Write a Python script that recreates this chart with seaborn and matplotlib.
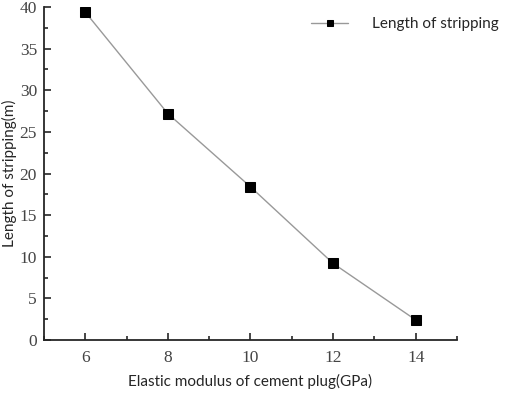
import matplotlib
matplotlib.use("Agg")
import matplotlib.pyplot as plt
import seaborn as sns
import pandas as pd
from matplotlib.ticker import MultipleLocator

# values
modulus = [6, 8, 10, 12, 14]
stripping = [39.4, 27.2, 18.4, 9.2, 2.4]

df = pd.DataFrame({"E": modulus, "L": stripping})

sns.set_style("ticks")
plt.rcParams['font.family'] = ['Lato', 'DejaVu Sans']

fig = plt.figure(figsize=(5.05, 3.93), dpi=100)
ax = fig.add_axes([0.087, 0.135, 0.818, 0.847])

sns.lineplot(data=df, x="E", y="L", ax=ax, color="#999999", linewidth=1,
             marker="s", markersize=7, markerfacecolor="black",
             markeredgecolor="black", label="Length of stripping")

ax.set_xlim(5, 15)
ax.set_ylim(0, 40)
ax.xaxis.set_major_locator(MultipleLocator(2))
ax.xaxis.set_minor_locator(MultipleLocator(1))
ax.yaxis.set_major_locator(MultipleLocator(5))
ax.yaxis.set_minor_locator(MultipleLocator(2.5))
ax.tick_params(which="major", direction="in", length=5, width=1.2, labelsize=12.5)
ax.tick_params(which="minor", direction="in", length=3, width=1.2)
ax.tick_params(axis="x", pad=7)
ax.tick_params(axis="y", pad=5)
for lab in ax.get_xticklabels() + ax.get_yticklabels():
    lab.set_family("Liberation Serif")
    lab.set_color("#444444")

for s in ["top", "right"]:
    ax.spines[s].set_visible(False)
for s in ["left", "bottom"]:
    ax.spines[s].set_linewidth(1.3)

ax.set_xlabel("Elastic modulus of cement plug(GPa)", fontsize=11, va="center")
ax.set_ylabel("Length of stripping(m)", fontsize=11, va="center")
ax.xaxis.set_label_coords(0.5, -0.126)
ax.yaxis.set_label_coords(-0.084, 0.5)

leg = ax.legend(loc="upper right", bbox_to_anchor=(1.135, 1.01), frameon=False,
                fontsize=11, handlelength=2.4, handletextpad=1.6)
for h in leg.legend_handles:
    h.set_markersize(5)

fig.savefig("out.png", dpi=100)
